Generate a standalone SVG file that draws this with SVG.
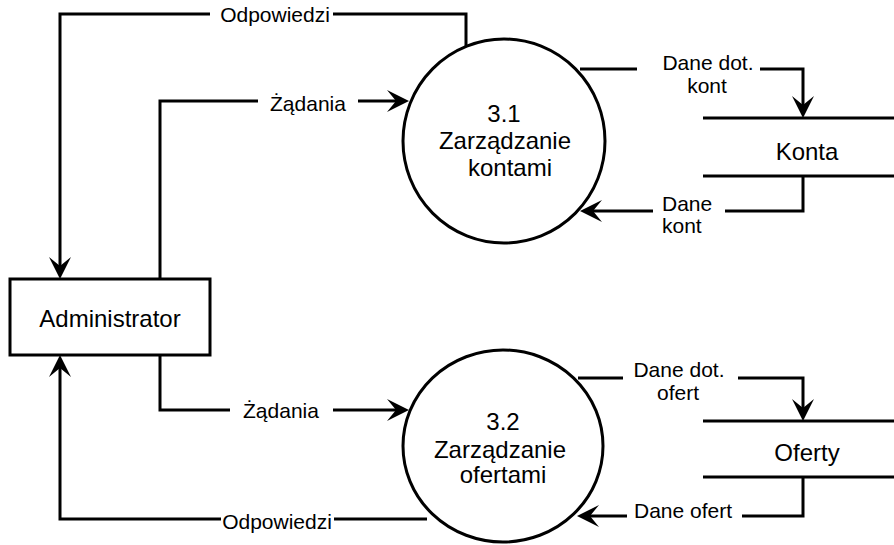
<svg xmlns="http://www.w3.org/2000/svg" width="894" height="545" viewBox="0 0 894 545">
<style>
.ln{fill:none;stroke:#000;stroke-width:3}
.arr{fill:none;stroke:#000;stroke-width:3;marker-end:url(#ah)}
.shape{fill:#fff;stroke:#000;stroke-width:3}
.nt{font-family:"Liberation Sans",Arial,sans-serif;font-size:24px;fill:#000;text-anchor:middle}
.lb{font-family:"Liberation Sans",Arial,sans-serif;font-size:21px;fill:#000;text-anchor:middle}
</style>
<defs>
<marker id="ah" markerUnits="userSpaceOnUse" viewBox="0 0 22 22" markerWidth="22" markerHeight="22" refX="9" refY="11" orient="auto">
<path d="M0,0 L22,11 L0,22 L9,11 Z" fill="#000"/>
</marker>
</defs>
<rect width="894" height="545" fill="#fff"/>
<g id="connectors">
<path class="arr" d="M466,47 V14 H333 M210,14 H60 V266"/>
<path class="arr" d="M160,279 V101 H258 M358,101 H396"/>
<path class="arr" d="M160,355 V410 H230 M333,410 H396"/>
<path class="arr" d="M427,519 H334 M221,519 H60 V368"/>
<path class="arr" d="M580,69 H637 M760,69 H803 V105"/>
<path class="arr" d="M803,176 V211 H725 M653,211 H593"/>
<path class="arr" d="M578,378 H623 M738,378 H803 V408"/>
<path class="arr" d="M803,477 V516 H742 M627,516 H590"/>
<text class="lb" x="275" y="22">Odpowiedzi</text>
<text class="lb" x="308" y="111">Żądania</text>
<text class="lb" x="281" y="418">Żądania</text>
<text class="lb" x="277" y="529">Odpowiedzi</text>
<text class="lb" x="708" y="70">Dane dot.</text>
<text class="lb" x="707" y="93">kont</text>
<text class="lb" x="662" y="211" style="text-anchor:start">Dane</text>
<text class="lb" x="662" y="233" style="text-anchor:start">kont</text>
<text class="lb" x="679" y="377">Dane dot.</text>
<text class="lb" x="678" y="400">ofert</text>
<text class="lb" x="683" y="518">Dane ofert</text>
</g>
<g id="administrator">
<rect class="shape" x="10" y="279" width="200" height="76"/>
<text class="nt" x="110" y="327">Administrator</text>
</g>
<g id="p31">
<ellipse class="shape" cx="504" cy="141" rx="101" ry="102"/>
<text class="nt" x="504" y="122">3.1</text>
<text class="nt" x="505" y="149">Zarządzanie</text>
<text class="nt" x="510" y="176">kontami</text>
</g>
<g id="p32">
<ellipse class="shape" cx="503" cy="446" rx="100" ry="96"/>
<text class="nt" x="503" y="430">3.2</text>
<text class="nt" x="500" y="458">Zarządzanie</text>
<text class="nt" x="503" y="483">ofertami</text>
</g>
<g id="konta">
<path class="ln" d="M703,118 H894 M703,176 H894"/>
<text class="nt" x="807" y="160">Konta</text>
</g>
<g id="oferty">
<path class="ln" d="M703,421 H894 M703,477 H894"/>
<text class="nt" x="807" y="461">Oferty</text>
</g>
</svg>
